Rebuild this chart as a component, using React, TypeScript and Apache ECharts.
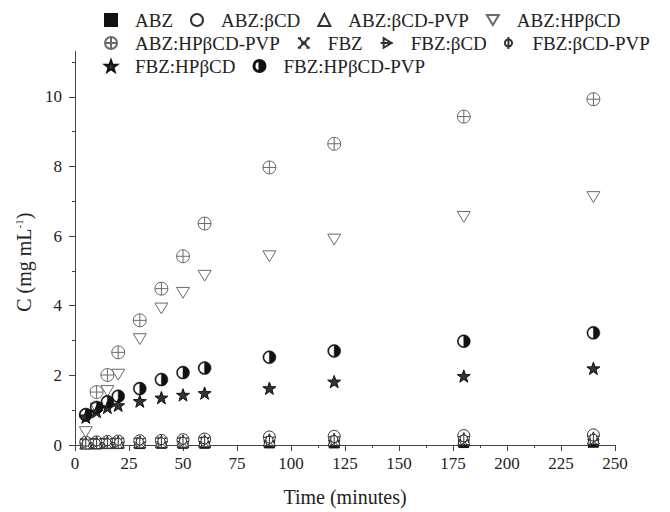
import React, { useEffect, useRef } from "react";
import * as echarts from "echarts";

const TIMES = [5, 10, 15, 20, 30, 40, 50, 60, 90, 120, 180, 240];

const ABZ = [0.03, 0.03, 0.04, 0.04, 0.04, 0.05, 0.05, 0.05, 0.06, 0.06, 0.07, 0.08];
const ABZ_BCD = [0.08, 0.09, 0.1, 0.11, 0.12, 0.13, 0.15, 0.17, 0.23, 0.25, 0.27, 0.29];
const ABZ_BCD_PVP = [0.06, 0.07, 0.08, 0.08, 0.09, 0.1, 0.11, 0.12, 0.15, 0.16, 0.18, 0.2];
const ABZ_HPBCD = [0.37, 1.05, 1.55, 2.02, 3.04, 3.92, 4.37, 4.86, 5.42, 5.9, 6.55, 7.12];
const ABZ_HPBCD_PVP = [0.87, 1.52, 2.01, 2.66, 3.58, 4.49, 5.42, 6.36, 7.97, 8.65, 9.43, 9.93];
const FBZ = [0.04, 0.05, 0.05, 0.06, 0.06, 0.07, 0.07, 0.08, 0.09, 0.1, 0.11, 0.12];
const FBZ_BCD = [0.05, 0.06, 0.07, 0.07, 0.08, 0.09, 0.1, 0.1, 0.12, 0.13, 0.14, 0.16];
const FBZ_BCD_PVP = [0.06, 0.07, 0.08, 0.09, 0.1, 0.11, 0.12, 0.13, 0.15, 0.17, 0.19, 0.21];
const FBZ_HPBCD = [0.8, 0.96, 1.08, 1.14, 1.26, 1.36, 1.44, 1.49, 1.63, 1.82, 1.98, 2.2];
const FBZ_HPBCD_PVP = [0.87, 1.08, 1.24, 1.4, 1.62, 1.88, 2.08, 2.21, 2.52, 2.7, 2.98, 3.22];

const X_TICKS = [0, 25, 50, 75, 100, 125, 150, 175, 200, 225, 250];
const Y_MAJOR = [0, 2, 4, 6, 8, 10];
const Y_MINOR = [1, 3, 5, 7, 9, 11];

const LEGEND_ROW1 = ["ABZ", "ABZ:βCD", "ABZ:βCD-PVP", "ABZ:HPβCD"];
const LEGEND_ROW2 = ["ABZ:HPβCD-PVP", "FBZ", "FBZ:βCD", "FBZ:βCD-PVP"];
const LEGEND_ROW3 = ["FBZ:HPβCD", "FBZ:HPβCD-PVP"];

const FONT = "'Liberation Serif', 'Times New Roman', serif";

const SYM = {
  triDown: "path://M1 3 L19 3 L10 18 Z",
  crossCircle: "path://M10 1 A9 9 0 0 1 10 19 A9 9 0 0 1 10 1 Z M10 1 L10 19 M1 10 L19 10",
  fbz: "path://M3 3 L17 17 M17 3 L3 17 M6 10 L14 10 M1 3 L6 3 M14 3 L19 3 M1 17 L6 17 M14 17 L19 17",
  triRightBar: "path://M5 2 L18 10 L5 18 Z M0 10 L20 10",
  phi: "path://M10 4 A6 6 0 0 1 10 16 A6 6 0 0 1 10 4 Z M10 0 L10 20",
  star: "path://M10 0 L12.35 6.76 L19.51 6.91 L13.8 11.24 L15.88 18.09 L10 14 L4.12 18.09 L6.2 11.24 L0.49 6.91 L7.65 6.76 Z",
  halfCircle: "path://M10 1 A9 9 0 0 1 10 19 A9 9 0 0 1 10 1 Z M10 2.5 A7.5 7.5 0 0 0 10 17.5 Z",
};

function pairs(vals: number[]) {
  return TIMES.map((t, i) => [t, vals[i]]);
}

function mk(name: string, vals: number[], symbol: string, fill: string, stroke: string, size = 12, bw = 1) {
  return {
    name,
    type: "scatter",
    data: pairs(vals),
    symbol,
    symbolSize: size,
    symbolKeepAspect: true,
    itemStyle: { color: fill, borderColor: stroke, borderWidth: bw, opacity: 1 },
    emphasis: { disabled: true },
  };
}

export default function App() {
  const ref = useRef<HTMLDivElement>(null);
  useEffect(() => {
    if (!ref.current) return;
    const chart = echarts.init(ref.current, undefined, { renderer: "svg" });
    const legendBase = {
      left: 104,
      padding: 0,
      itemWidth: 12,
      itemHeight: 12,
      itemGap: 17,
      textStyle: { fontFamily: FONT, fontSize: 19, color: "#222", padding: [0, 0, 0, 13] },
      selectedMode: false,
    };
    const axisCol = "#444";
    chart.setOption({
      animation: false,
      backgroundColor: "#fff",
      legend: [
        { ...legendBase, top: 10.5, data: LEGEND_ROW1 },
        { ...legendBase, top: 33.5, data: LEGEND_ROW2 },
        { ...legendBase, top: 56.5, data: LEGEND_ROW3 },
      ],
      grid: { left: 75, right: 55, top: 51.5, bottom: 65, containLabel: false },
      xAxis: {
        type: "value",
        min: 0,
        max: 250,
        interval: 25,
        name: "Time (minutes)",
        nameLocation: "middle",
        nameGap: 42,
        nameTextStyle: { fontFamily: FONT, fontSize: 20, color: "#222" },
        axisLine: { show: true, onZero: false, lineStyle: { color: axisCol, width: 1 } },
        axisTick: { show: true, inside: false, length: 6, lineStyle: { color: axisCol } },
        minorTick: { show: true, splitNumber: 2, length: 3, lineStyle: { color: axisCol } },
        axisLabel: {
          fontFamily: FONT,
          fontSize: 17,
          color: "#222",
          margin: 10,
          customValues: X_TICKS,
        },
        splitLine: { show: false },
        minorSplitLine: { show: false },
      },
      yAxis: [
        {
          type: "value",
          min: 0,
          max: 11.3,
          position: "left",
          name: "C (mg mL{sup|-1})",
          nameLocation: "middle",
          nameGap: 38,
          nameTextStyle: {
            fontFamily: FONT,
            fontSize: 20,
            color: "#222",
            padding: [0, 28, 0, 0],
            rich: { sup: { fontFamily: FONT, fontSize: 11, color: "#222", padding: [0, 0, 10, 0] } },
          },
          axisLine: { show: true, onZero: false, lineStyle: { color: axisCol, width: 1 } },
          axisTick: { show: true, inside: false, length: 6, customValues: Y_MAJOR, lineStyle: { color: axisCol } },
          axisLabel: { fontFamily: FONT, fontSize: 17, color: "#222", margin: 13, customValues: Y_MAJOR },
          splitLine: { show: false },
        },
        {
          type: "value",
          min: 0,
          max: 11.3,
          position: "left",
          offset: 0,
          axisLine: { show: false },
          axisTick: { show: true, inside: false, length: 3, customValues: Y_MINOR, lineStyle: { color: axisCol } },
          axisLabel: { show: false },
          splitLine: { show: false },
        },
      ],
      series: [
        mk("ABZ", ABZ, "rect", "#111", "#111", 10),
        mk("ABZ:βCD", ABZ_BCD, "circle", "#fff", "#333", 12),
        mk("ABZ:βCD-PVP", ABZ_BCD_PVP, "triangle", "#fff", "#333", 12),
        mk("ABZ:HPβCD", ABZ_HPBCD, SYM.triDown, "#fff", "#6a6a6a", 13),
        mk("ABZ:HPβCD-PVP", ABZ_HPBCD_PVP, SYM.crossCircle, "#fff", "#6a6a6a", 13),
        mk("FBZ", FBZ, SYM.fbz, "#fff", "#333", 12),
        mk("FBZ:βCD", FBZ_BCD, SYM.triRightBar, "#fff", "#333", 12),
        mk("FBZ:βCD-PVP", FBZ_BCD_PVP, SYM.phi, "#fff", "#333", 12),
        mk("FBZ:HPβCD", FBZ_HPBCD, SYM.star, "#333", "#111", 13),
        mk("FBZ:HPβCD-PVP", FBZ_HPBCD_PVP, SYM.halfCircle, "#111", "#111", 13, 0.5),
      ],
    });
    return () => chart.dispose();
  }, []);
  return (
    <div
      ref={ref}
      style={{ position: "fixed", left: 0, top: 0, width: 670, height: 512, background: "#fff" }}
    />
  );
}
